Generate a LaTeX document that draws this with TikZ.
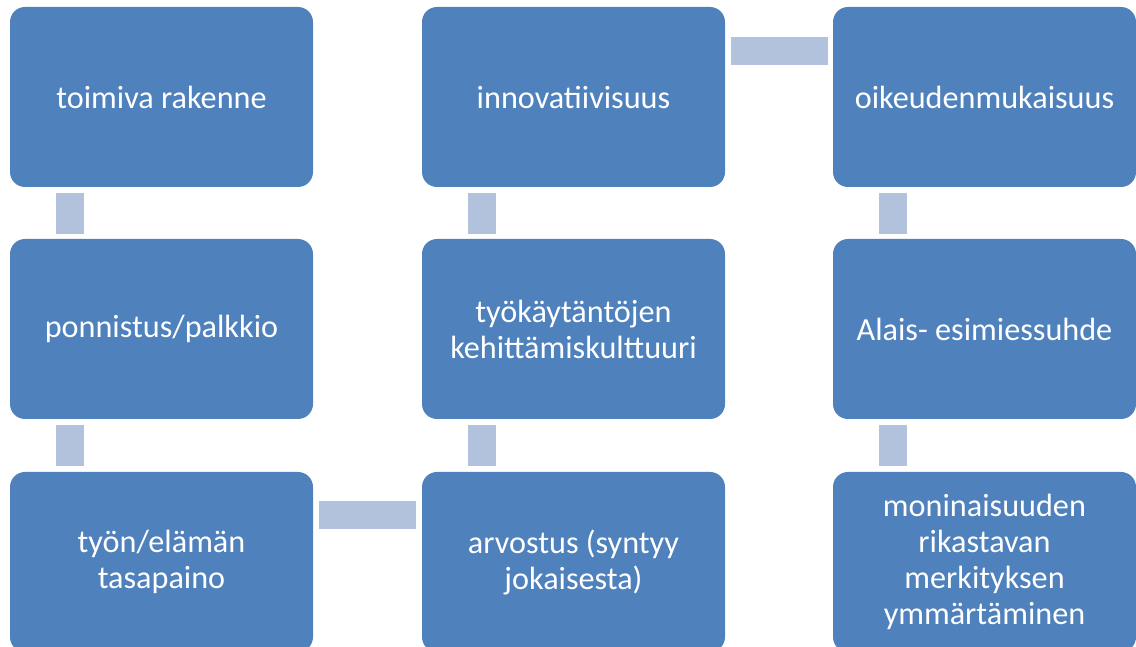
\documentclass[tikz,border=0pt]{standalone}
\usepackage{fontspec}
\setmainfont{Carlito}
\definecolor{boxblue}{HTML}{4F81BD}
\definecolor{barblue}{HTML}{B2C2DD}
\begin{document}
\begin{tikzpicture}[x=1pt,y=1pt,
  box/.style={rectangle, rounded corners=15pt, fill=boxblue, text=white,
    minimum width=303pt, minimum height=180pt, inner sep=0pt, align=center,
    font=\fontsize{32.2}{36}\selectfont},
  bar/.style={draw=barblue, line width=28pt, line cap=butt}]
\clip (0,0) rectangle (1136,647);
\fill[white] (0,0) rectangle (1136,647);
% columns x: 161.5, 573.5, 984.5 ; rows y: 550, 318, 85
\node[box] (a1) at (161.5,550) {toimiva rakenne};
\node[box] (a2) at (161.5,318) {ponnistus/palkkio};
\node[box] (a3) at (161.5,85) {työn/elämän\\tasapaino};
\node[box] (b1) at (573.5,550) {innovatiivisuus};
\node[box] (b2) at (573.5,318) {työkäytäntöjen\\kehittämiskulttuuri};
\node[box] (b3) at (573.5,85) {arvostus (syntyy\\jokaisesta)};
\node[box] (c1) at (984.5,550) {oikeudenmukaisuus};
\node[box] (c2) at (984.5,318) {Alais- esimiessuhde};
\node[box] (c3) at (984.5,85) {moninaisuuden\\rikastavan\\merkityksen\\ymmärtäminen};
% vertical connectors
\draw[bar] ([shift={(60,-6)}]a1.south west) -- ([shift={(60,5)}]a2.north west);
\draw[bar] ([shift={(60,-6)}]a2.south west) -- ([shift={(60,6)}]a3.north west);
\draw[bar] ([shift={(60,-6)}]b1.south west) -- ([shift={(60,5)}]b2.north west);
\draw[bar] ([shift={(60,-6)}]b2.south west) -- ([shift={(60,6)}]b3.north west);
\draw[bar] ([shift={(60,-6)}]c1.south west) -- ([shift={(60,5)}]c2.north west);
\draw[bar] ([shift={(60,-6)}]c2.south west) -- ([shift={(60,6)}]c3.north west);
% horizontal connectors
\draw[bar] ([shift={(6,-43)}]a3.north east) -- ([shift={(-6,-43)}]b3.north west);
\draw[bar] ([shift={(6,-44)}]b1.north east) -- ([shift={(-5,-44)}]c1.north west);
\end{tikzpicture}
\end{document}
